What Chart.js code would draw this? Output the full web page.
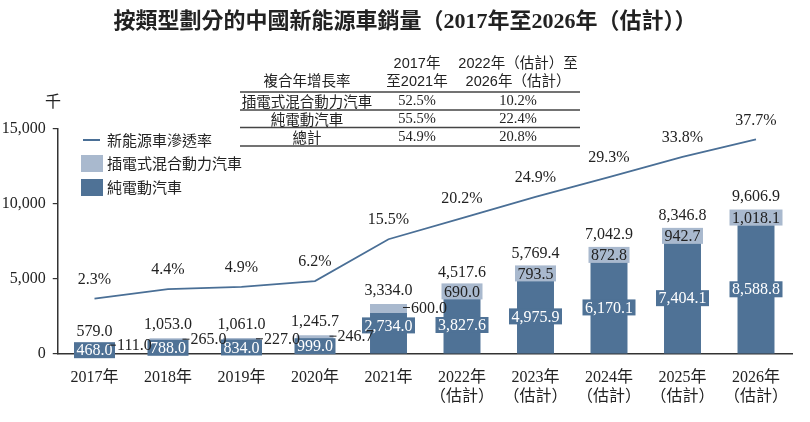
<!DOCTYPE html>
<html>
<head>
<meta charset="utf-8">
<script src="https://cdn.jsdelivr.net/npm/chart.js@4.4.0/dist/chart.umd.min.js"></script>
<style>
  html, body { margin: 0; padding: 0; background: #fff; }
  #wrap { width: 810px; height: 422px; }
</style>
</head>
<body>
<div id="wrap"><canvas id="evChart" width="810" height="422"></canvas></div>
<script>
// Data
const years = [["2017年"], ["2018年"], ["2019年"], ["2020年"], ["2021年"],
  ["2022年", "（估計）"], ["2023年", "（估計）"], ["2024年", "（估計）"], ["2025年", "（估計）"], ["2026年", "（估計）"]];
const isEstimate = [false, false, false, false, false, true, true, true, true, true];
const bevSales = [468.0, 788.0, 834.0, 999.0, 2734.0, 3827.6, 4975.9, 6170.1, 7404.1, 8588.8];
const phevSales = [111.0, 265.0, 227.0, 246.7, 600.0, 690.0, 793.5, 872.8, 942.7, 1018.1];
const totalSales = [579.0, 1053.0, 1061.0, 1245.7, 3334.0, 4517.6, 5769.4, 7042.9, 8346.8, 9606.9];
const penetration = [2.3, 4.4, 4.9, 6.2, 15.5, 20.2, 24.9, 29.3, 33.8, 37.7];
const yTicks = [0, 5000, 10000, 15000];

// CAGR table
const cagrHeader = ["複合年增長率", ["2017年", "至2021年"], ["2022年（估計）至", "2026年（估計）"]];
const cagrRows = ["插電式混合動力汽車", "純電動汽車", "總計"];
const cagrHist = ["52.5%", "55.5%", "54.9%"];
const cagrFcst = ["10.2%", "22.4%", "20.8%"];

const BEV_COLOR = "#4f7296";
const PHEV_COLOR = "#a9b9ce";
const LINE_COLOR = "#4a6f96";
const TEXT = "#222";
const serif = "'Liberation Serif', 'Noto Sans CJK TC', serif";
const cjk = "'Noto Sans CJK TC', sans-serif";
const headFont = "'Liberation Sans', 'Noto Sans CJK TC', sans-serif";

function fmt(v) {
  return v.toLocaleString("en-US", { minimumFractionDigits: 1, maximumFractionDigits: 1 });
}

function boxLabel(ctx, text, x, y, bg, fg) {
  ctx.font = "16px " + serif;
  const w = ctx.measureText(text).width + 5;
  ctx.fillStyle = bg;
  ctx.fillRect(x - w / 2, y - 8, w, 16);
  ctx.fillStyle = fg;
  ctx.textAlign = "center";
  ctx.textBaseline = "middle";
  ctx.fillText(text, x, y + 1);
}

const labelPlugin = {
  id: "labels",
  afterDatasetsDraw(chart) {
    const ctx = chart.ctx;
    const bevMeta = chart.getDatasetMeta(0);
    const phevMeta = chart.getDatasetMeta(1);
    const lineMeta = chart.getDatasetMeta(2);
    ctx.save();
    bevMeta.data.forEach((b, i) => {
      let cy = (b.y + b.base) / 2;
      // keep the box clear of the side label of the previous bar
      if (b.base - b.y > 20) cy = Math.min(cy, b.base - 28);
      boxLabel(ctx, fmt(bevSales[i]), b.x, cy, BEV_COLOR, "#fff");
    });
    phevMeta.data.forEach((p, i) => {
      const cy = (p.y + p.base) / 2;
      if (isEstimate[i]) {
        boxLabel(ctx, fmt(phevSales[i]), p.x, cy, PHEV_COLOR, TEXT);
      } else {
        const right = p.x + p.width / 2;
        ctx.strokeStyle = TEXT;
        ctx.lineWidth = 1;
        ctx.beginPath();
        ctx.moveTo(right - 4, cy - 1);
        ctx.lineTo(right + 3, cy - 1);
        ctx.stroke();
        ctx.font = "16px " + serif;
        ctx.fillStyle = TEXT;
        ctx.textAlign = "left";
        ctx.textBaseline = "middle";
        ctx.fillText(fmt(phevSales[i]), right + 4, cy);
      }
      ctx.font = "16px " + serif;
      ctx.fillStyle = TEXT;
      ctx.textAlign = "center";
      ctx.textBaseline = "middle";
      ctx.fillText(fmt(totalSales[i]), p.x, p.y - 13.5);
    });
    lineMeta.data.forEach((pt, i) => {
      ctx.font = "16px " + serif;
      ctx.fillStyle = TEXT;
      ctx.textAlign = "center";
      ctx.textBaseline = "middle";
      ctx.fillText(penetration[i].toFixed(1) + "%", pt.x, pt.y - 19);
    });
    ctx.restore();
  },
  afterDraw(chart) {
    const ctx = chart.ctx;
    ctx.save();
    ctx.fillStyle = TEXT;
    ctx.textBaseline = "middle";

    // title
    ctx.textAlign = "center";
    ctx.font = "bold 22px " + serif;
    ctx.fillText("按類型劃分的中國新能源車銷量（2017年至2026年（估計））", 405, 22);

    // unit
    ctx.font = "16px " + cjk;
    ctx.fillText("千", 53, 101);

    // legend
    const ds = chart.data.datasets;
    ctx.strokeStyle = LINE_COLOR;
    ctx.lineWidth = 2;
    ctx.beginPath();
    ctx.moveTo(83, 140);
    ctx.lineTo(100, 140);
    ctx.stroke();
    ctx.fillStyle = PHEV_COLOR;
    ctx.fillRect(81, 155, 22, 17);
    ctx.fillStyle = BEV_COLOR;
    ctx.fillRect(81, 179, 22, 17);
    ctx.fillStyle = TEXT;
    ctx.textAlign = "left";
    ctx.font = "15px " + cjk;
    ctx.fillText(ds[2].label, 107, 140);
    ctx.fillText(ds[1].label, 107, 163.5);
    ctx.fillText(ds[0].label, 107, 187.5);

    // CAGR table
    const c0 = 307, c1 = 417, c2 = 518;
    ctx.textAlign = "center";
    ctx.font = "14.5px " + headFont;
    ctx.fillText(cagrHeader[0], c0, 82);
    ctx.fillText(cagrHeader[1][0], c1, 64);
    ctx.fillText(cagrHeader[1][1], c1, 82);
    ctx.fillText(cagrHeader[2][0], c2, 64);
    ctx.fillText(cagrHeader[2][1], c2, 82);
    const rowY = [101, 119, 137];
    cagrRows.forEach((r, i) => {
      ctx.font = "14.5px " + cjk;
      ctx.fillText(r, c0, rowY[i]);
      ctx.font = "14.5px " + serif;
      ctx.fillText(cagrHist[i], c1, rowY[i]);
      ctx.fillText(cagrFcst[i], c2, rowY[i]);
    });
    ctx.strokeStyle = "#444";
    ctx.lineWidth = 1.4;
    [92, 110, 127.5, 146].forEach(y => {
      ctx.beginPath();
      ctx.moveTo(240, y);
      ctx.lineTo(580, y);
      ctx.stroke();
    });
    ctx.restore();
  }
};

const ctx = document.getElementById("evChart").getContext("2d");
const evChart = new Chart(ctx, {
  type: "bar",
  data: {
    labels: years,
    datasets: [
      {
        label: "純電動汽車",
        data: bevSales,
        backgroundColor: BEV_COLOR,
        categoryPercentage: 1,
        barPercentage: 0.503,
        order: 2,
      },
      {
        label: "插電式混合動力汽車",
        data: phevSales,
        backgroundColor: PHEV_COLOR,
        categoryPercentage: 1,
        barPercentage: 0.503,
        order: 2,
      },
      {
        type: "line",
        label: "新能源車滲透率",
        data: penetration,
        yAxisID: "y1",
        borderColor: LINE_COLOR,
        borderWidth: 1.8,
        pointRadius: 0,
        tension: 0,
        order: 1,
      },
    ],
  },
  options: {
    responsive: false,
    animation: false,
    devicePixelRatio: 1,
    layout: { padding: { top: 129, right: 17.25, left: 0, bottom: 0 } },
    plugins: {
      legend: { display: false },
      tooltip: { enabled: false },
    },
    scales: {
      x: {
        stacked: true,
        grid: { display: false, drawTicks: false },
        border: { display: true, color: "#333", width: 1.5 },
        ticks: {
          color: TEXT,
          padding: 14,
          maxRotation: 0,
          autoSkip: false,
          font: { family: serif, size: 16, lineHeight: 1.2 },
        },
        afterFit(scale) { scale.height = 68; },
      },
      y: {
        stacked: true,
        min: 0,
        max: 15000,
        grid: { display: true, drawOnChartArea: false, drawTicks: true, tickLength: 5, color: "#333", lineWidth: 1.2 },
        border: { display: true, color: "#333", width: 1.5 },
        ticks: {
          color: TEXT,
          padding: 7,
          font: { family: serif, size: 16 },
          callback: (v) => v.toLocaleString("en-US"),
        },
        afterBuildTicks(scale) { scale.ticks = yTicks.map(v => ({ value: v })); },
        afterFit(scale) { scale.width = 57.75; },
      },
      y1: {
        display: false,
        min: -10,
        max: 40,
      },
    },
  },
  plugins: [labelPlugin],
});
</script>
</body>
</html>
